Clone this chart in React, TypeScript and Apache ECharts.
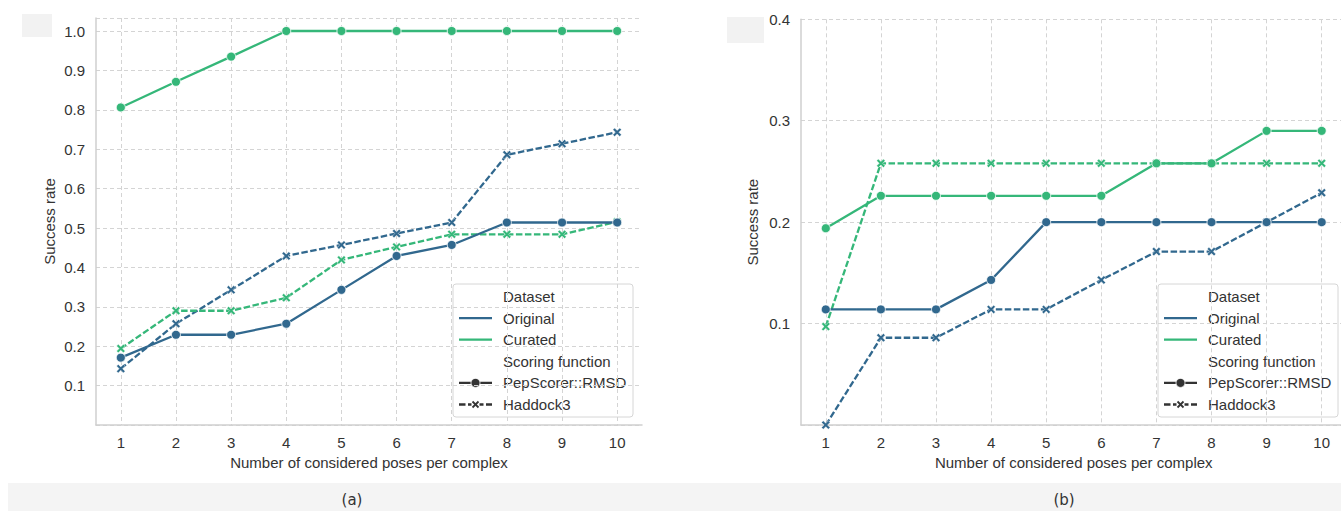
import React, { useEffect, useRef } from "react";
import * as echarts from "echarts";

const poses = [1, 2, 3, 4, 5, 6, 7, 8, 9, 10];

// (a)
const aOriginalPep = [0.171, 0.229, 0.229, 0.257, 0.343, 0.429, 0.457, 0.514, 0.514, 0.514];
const aOriginalHad = [0.143, 0.257, 0.343, 0.429, 0.457, 0.486, 0.514, 0.686, 0.714, 0.743];
const aCuratedPep = [0.806, 0.871, 0.935, 1.0, 1.0, 1.0, 1.0, 1.0, 1.0, 1.0];
const aCuratedHad = [0.194, 0.29, 0.29, 0.323, 0.419, 0.452, 0.484, 0.484, 0.484, 0.516];

// (b)
const bOriginalPep = [0.114, 0.114, 0.114, 0.143, 0.2, 0.2, 0.2, 0.2, 0.2, 0.2];
const bOriginalHad = [0.0, 0.086, 0.086, 0.114, 0.114, 0.143, 0.171, 0.171, 0.2, 0.229];
const bCuratedPep = [0.194, 0.226, 0.226, 0.226, 0.226, 0.226, 0.258, 0.258, 0.29, 0.29];
const bCuratedHad = [0.097, 0.258, 0.258, 0.258, 0.258, 0.258, 0.258, 0.258, 0.258, 0.258];

const legendRows = ["Dataset", "Original", "Curated", "Scoring function", "PepScorer::RMSD", "Haddock3"];
const captions = ["(a)", "(b)"];
const xName = "Number of considered poses per complex";
const yName = "Success rate";

const BLUE = "#31688e";
const GREEN = "#35b779";
const TXT = "#333333";
const GRIDC = "#d4d4d4";
const FONT = "'Liberation Sans', Arial, sans-serif";
const XSYM = "path://M0,2 L2,0 L5,3 L8,0 L10,2 L7,5 L10,8 L8,10 L5,7 L2,10 L0,8 L3,5 Z";

function mk(idx: number, vals: number[], color: string, dashed: boolean) {
  return {
    type: "line",
    xAxisIndex: idx,
    yAxisIndex: idx,
    data: poses.map((p, i) => [p, vals[i]]),
    symbol: dashed ? XSYM : "circle",
    symbolSize: dashed ? 8.5 : 9,
    lineStyle: { color, width: 2.3, type: dashed ? [6.5, 2.5] : "solid" },
    itemStyle: { color, borderColor: "#ffffff", borderWidth: dashed ? 0.4 : 0.8 },
    emphasis: { disabled: true },
    clip: false,
  };
}

function legend(x: number, y: number) {
  const rowH = 21.6;
  const hx0 = 6, hx1 = 39, tx = 50;
  const children: any[] = [
    {
      type: "rect",
      shape: { x: 0, y: 0, width: 180, height: 133, r: 3 },
      style: { fill: "rgba(255,255,255,0.85)", stroke: "#d6d6d6", lineWidth: 1 },
    },
  ];
  legendRows.forEach((t, i) => {
    const cy = 12.5 + i * rowH;
    children.push({
      type: "text",
      style: { x: tx, y: cy, text: t, font: `15px ${FONT}`, fill: TXT, verticalAlign: "middle" },
    });
    if (i === 1 || i === 2) {
      children.push({
        type: "line",
        shape: { x1: hx0, y1: cy, x2: hx1, y2: cy },
        style: { stroke: i === 1 ? BLUE : GREEN, lineWidth: 2.3 },
      });
    }
    if (i === 4) {
      children.push({ type: "line", shape: { x1: hx0, y1: cy, x2: hx1, y2: cy }, style: { stroke: "#333", lineWidth: 2.3 } });
      children.push({ type: "circle", shape: { cx: (hx0 + hx1) / 2, cy, r: 4.5 }, style: { fill: "#333", stroke: "#fff", lineWidth: 0.8 } });
    }
    if (i === 5) {
      children.push({ type: "line", shape: { x1: hx0, y1: cy, x2: hx1, y2: cy }, style: { stroke: "#333", lineWidth: 2.3, lineDash: [6.5, 2.5] } });
      const mx = (hx0 + hx1) / 2;
      children.push({ type: "rect", shape: { x: mx - 4, y: cy - 4, width: 8, height: 8 }, style: { fill: "#fff" } });
      children.push({ type: "line", shape: { x1: mx - 3, y1: cy - 3, x2: mx + 3, y2: cy + 3 }, style: { stroke: "#333", lineWidth: 1.8 } });
      children.push({ type: "line", shape: { x1: mx + 3, y1: cy - 3, x2: mx - 3, y2: cy + 3 }, style: { stroke: "#333", lineWidth: 1.8 } });
    }
  });
  return { type: "group", x, y, z: 100, children };
}

function xAxis(idx: number) {
  return {
    type: "value",
    gridIndex: idx,
    min: 0.55,
    max: 10.45,
    name: xName,
    nameLocation: "middle",
    nameGap: 30,
    nameTextStyle: { fontSize: 15, color: TXT, fontFamily: FONT },
    axisLine: { show: true, lineStyle: { color: "#cfcfcf", width: 1.5 } },
    axisTick: { show: false, customValues: poses },
    axisLabel: { customValues: poses, fontSize: 15, color: TXT, fontFamily: FONT, margin: 10 },
    splitLine: { show: true, lineStyle: { color: GRIDC, type: [4, 3], width: 1 } },
  };
}

function yAxis(idx: number, max: number, gap: number) {
  return {
    type: "value",
    gridIndex: idx,
    min: 0,
    max,
    interval: 0.1,
    name: yName,
    nameLocation: "middle",
    nameGap: gap,
    nameTextStyle: { fontSize: 15, color: TXT, fontFamily: FONT },
    axisLine: { show: true, lineStyle: { color: "#cfcfcf", width: 1.5 } },
    axisTick: { show: false },
    axisLabel: {
      showMinLabel: false,
      fontSize: 15,
      color: TXT,
      fontFamily: FONT,
      margin: 11,
      formatter: (v: number) => v.toFixed(1),
    },
    splitLine: { show: true, lineStyle: { color: GRIDC, type: [4, 3], width: 1 } },
  };
}

export default function App() {
  const ref = useRef<HTMLDivElement>(null);
  useEffect(() => {
    if (!ref.current) return;
    const chart = echarts.init(ref.current, null, { renderer: "svg" });
    chart.setOption({
      animation: false,
      backgroundColor: "#ffffff",
      grid: [
        { left: 96, top: 18, width: 546, height: 407 },
        { left: 801, top: 19.3, width: 545.5, height: 405.7 },
      ],
      xAxis: [xAxis(0), xAxis(1)],
      yAxis: [yAxis(0, 1.033, 39), yAxis(1, 0.4, 41)],
      series: [
        mk(0, aOriginalHad, BLUE, true),
        mk(0, aCuratedHad, GREEN, true),
        mk(0, aOriginalPep, BLUE, false),
        mk(0, aCuratedPep, GREEN, false),
        mk(1, bOriginalHad, BLUE, true),
        mk(1, bCuratedHad, GREEN, true),
        mk(1, bOriginalPep, BLUE, false),
        mk(1, bCuratedPep, GREEN, false),
      ],
      graphic: [
        { type: "rect", shape: { x: 22, y: 14, width: 30, height: 23 }, style: { fill: "#f2f2f2" }, z: 1 },
        { type: "rect", shape: { x: 727, y: 17, width: 37, height: 26 }, style: { fill: "#f2f2f2" }, z: 1 },
        { type: "rect", shape: { x: 8, y: 483, width: 1342, height: 28 }, style: { fill: "#f4f4f4" }, z: 1 },
        {
          type: "text",
          style: { x: 352, y: 500, text: captions[0], font: `15px 'DejaVu Sans', sans-serif`, fill: TXT, align: "center", verticalAlign: "middle" },
          z: 2,
        },
        {
          type: "text",
          style: { x: 1064, y: 500, text: captions[1], font: `15px 'DejaVu Sans', sans-serif`, fill: TXT, align: "center", verticalAlign: "middle" },
          z: 2,
        },
        legend(453, 284),
        legend(1158, 284),
      ],
    });
    return () => chart.dispose();
  }, []);
  return (
    <div style={{ position: "absolute", left: 0, top: 0, width: 1341, height: 511, overflow: "hidden", background: "#fff" }}>
      <div ref={ref} style={{ width: 1350, height: 511 }} />
    </div>
  );
}
